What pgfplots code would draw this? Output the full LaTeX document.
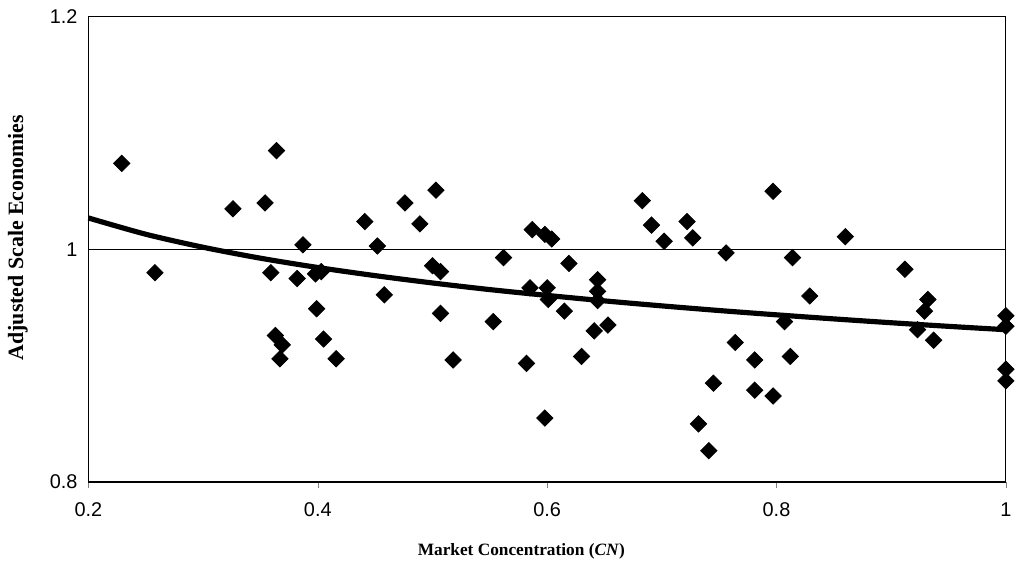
\documentclass[border=0pt]{standalone}
\usepackage{pgfplots}
\pgfplotsset{compat=1.18}
\usepackage{fontspec}
\setmainfont{Liberation Serif}
\newfontfamily\arial{Liberation Sans}
\begin{document}
\begin{tikzpicture}
\begin{axis}[
  at={(0,0)}, anchor=south west,
  scale only axis,
  width=461.5pt, height=234pt,
  xmin=0.2, xmax=1, ymin=0.8, ymax=1.2,
  xtick={0.2,0.4,0.6,0.8,1},
  ytick={0.8,1,1.2},
  /pgf/number format/assume math mode=true,
  ticklabel style={font=\arial\fontsize{10}{12}\selectfont},
  xtick align=outside, xtick pos=bottom,
  ytick pos=left, major y tick style={draw=none},
  major tick length=3pt,
  xticklabel style={yshift=-4pt},
  yticklabel style={xshift=-2pt},
  axis line style={line width=0.6pt},
  ymajorgrids, grid style={black, line width=0.5pt},
  every axis y label/.style={at={(axis description cs:0,0.5)}, rotate=90, anchor=center, xshift=6pt, yshift=35.5pt},
  every axis x label/.style={at={(axis description cs:0.5,0)}, anchor=center, xshift=-13pt, yshift=-35pt},
  ylabel={\fontsize{11}{12}\selectfont\bfseries Adjusted Scale Economies},
  xlabel={\fontsize{8.7}{10}\selectfont\bfseries Market Concentration (\textit{CN})},
  clip=false,
]
\addplot[only marks, mark=square*, mark size=2.9pt, mark options={rotate=45, fill=black, draw=black}] coordinates {
(0.229,1.074) (0.258,0.980) (0.326,1.035) (0.354,1.040) (0.364,1.085) (0.359,0.980)
(0.382,0.975) (0.387,1.004) (0.398,0.979) (0.403,0.981) (0.399,0.949)
(0.363,0.926) (0.369,0.918) (0.367,0.906) (0.405,0.923) (0.416,0.906)
(0.441,1.024) (0.452,1.003) (0.476,1.040) (0.489,1.022) (0.503,1.051)
(0.458,0.961) (0.500,0.986) (0.507,0.981) (0.507,0.945) (0.518,0.905)
(0.553,0.938) (0.562,0.993) (0.582,0.902) (0.587,1.017) (0.598,1.013)
(0.604,1.009) (0.585,0.967) (0.600,0.967) (0.601,0.957) (0.598,0.855)
(0.619,0.988) (0.615,0.947) (0.630,0.908) (0.641,0.930) (0.653,0.935)
(0.644,0.974) (0.644,0.964) (0.644,0.956) (0.683,1.042) (0.691,1.021)
(0.702,1.007) (0.722,1.024) (0.727,1.010) (0.797,1.050) (0.756,0.997)
(0.814,0.993) (0.860,1.011) (0.912,0.983) (0.829,0.960) (0.807,0.938)
(0.932,0.957) (0.929,0.947) (0.923,0.931) (0.937,0.922)
(1.000,0.943) (1.000,0.934) (1.000,0.897) (1.000,0.887)
(0.764,0.920) (0.781,0.905) (0.812,0.908) (0.745,0.885) (0.781,0.879)
(0.797,0.874) (0.732,0.850) (0.741,0.827)
};
\addplot[black, line width=2.6pt, smooth] coordinates {
(0.20,1.0271) (0.25,1.0131) (0.30,1.0019) (0.35,0.9925) (0.40,0.9845)
(0.45,0.9775) (0.50,0.9712) (0.55,0.9655) (0.60,0.9605) (0.65,0.9558)
(0.70,0.9515) (0.75,0.9475) (0.80,0.9438) (0.85,0.9403) (0.90,0.9370)
(0.95,0.9339) (1.00,0.9310)
};
\end{axis}
\path[use as bounding box] (-44.5pt,-44pt) rectangle (464.5pt,242.5pt);
\end{tikzpicture}
\end{document}
